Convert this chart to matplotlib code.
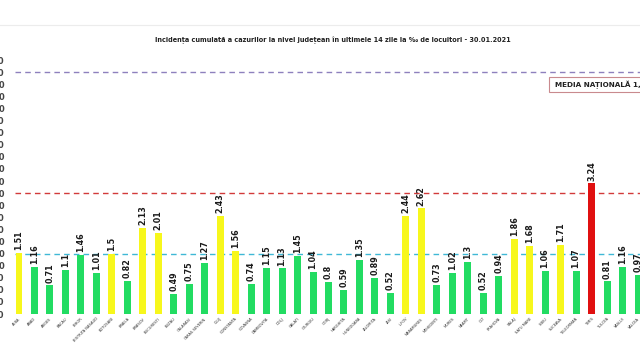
import matplotlib.pyplot as plt
import matplotlib.patches as mpatches
from matplotlib.lines import Line2D
import numpy as np

counties = [
    "ALBA", "ARAD", "ARGES", "BACAU", "BIHOR", "BISTRITA NASAUD", "BOTOSANI",
    "BRAILA", "BRASOV", "BUCURESTI", "BUZAU", "CALARASI", "CARAS-SEVERIN",
    "CLUJ", "CONSTANTA", "COVASNA", "DAMBOVITA", "DOLJ", "GALATI", "GIURGIU",
    "GORJ", "HARGHITA", "HUNEDOARA", "IALOMITA", "IASI", "ILFOV", "MARAMURES",
    "MEHEDINTI", "MURES", "NEAMT", "OLT", "PRAHOVA", "SALAJ", "SATU MARE",
    "SIBIU", "SUCEAVA", "TELEORMAN", "TIMIS", "TULCEA", "VASLUI", "VALCEA",
]
incidence = [
    1.51, 1.16, 0.71, 1.1, 1.46, 1.01, 1.5, 0.82, 2.13, 2.01, 0.49, 0.75, 1.27,
    2.43, 1.56, 0.74, 1.15, 1.13, 1.45, 1.04, 0.8, 0.59, 1.35, 0.89, 0.52,
    2.44, 2.62, 0.73, 1.02, 1.3, 0.52, 0.94, 1.86, 1.68, 1.06, 1.71, 1.07,
    3.24, 0.81, 1.16, 0.97,
]
thresholds = [1.5, 3.0, 6.0]
threshold_colors = ["#3fb8d6", "#d23a3a", "#8e80bd"]
title = ("Incidența cumulată a cazurilor la nivel județean în ultimele 14 zile "
         "la ‰ de locuitori - 30.01.2021")
media_text = "MEDIA NAȚIONALĂ 1,8"

W, H = 640, 359
fig = plt.figure(figsize=(W / 100, H / 100), dpi=100)
fig.patch.set_facecolor("white")

# axes placed so the y tick labels fall mostly outside the picture (cropped screenshot)
left_px, base_px, px_per_bar, px_per_unit = 6, 314, 15.475, 40.3
ymax = 6.5
ax = fig.add_axes([left_px / W, (H - base_px) / H, 1 - left_px / W, ymax * px_per_unit / H])
x = np.arange(len(counties))
ax.set_xlim(-(19 - left_px) / px_per_bar, (W - 19) / px_per_bar)
ax.set_ylim(0, ymax)


def bar_color(v):
    if v >= 3:
        return "#e01010"
    if v >= 1.5:
        return "#f7f71c"
    return "#22dc62"


colors = [bar_color(v) for v in incidence]
ax.bar(x, incidence, width=0.45, color=colors, zorder=2)

for xi, v in zip(x, incidence):
    ax.text(xi, v + 0.07, f"{v:g}", rotation=90, ha="center", va="bottom",
            fontsize=5.8, fontweight="bold", color="#1a1a1a",
            family=["Liberation Sans Narrow", "DejaVu Sans"])

for t, c in zip(thresholds, threshold_colors):
    ax.plot([-0.25, x[-1] + 2], [t, t], color=c, lw=1.0, ls=(0, (4, 3)), zorder=1)

ax.set_yticks(np.arange(0, 6.31, 0.3))
ax.set_yticklabels([f"{t:.2f}" for t in np.arange(0, 6.31, 0.3)],
                   fontsize=6, fontweight="bold", color="#444444")
ax.tick_params(axis="y", length=0, pad=1)
ax.set_xticks(x)
ax.set_xticklabels(counties, rotation=45, ha="right", rotation_mode="anchor",
                   fontsize=2.6, color="#333333")
ax.tick_params(axis="x", length=0, pad=2)
for s in ax.spines.values():
    s.set_visible(False)

fig.text(333 / W, 1 - 40 / H, title, ha="center", va="center",
         fontsize=4.7, fontweight="bold", color="#222222")
fig.add_artist(Line2D([0, 1], [1 - 25 / H, 1 - 25 / H], color="#ececec", lw=0.8))

fig.add_artist(mpatches.Rectangle((549 / W, 1 - 92 / H), 110 / W, 15 / H,
                                  facecolor="white", edgecolor="#c98a8e", lw=0.8))
fig.text(555 / W, 1 - 84.5 / H, media_text, ha="left", va="center",
         fontsize=5.2, fontweight="bold", color="#222222")

fig.savefig("out.png", dpi=100)
